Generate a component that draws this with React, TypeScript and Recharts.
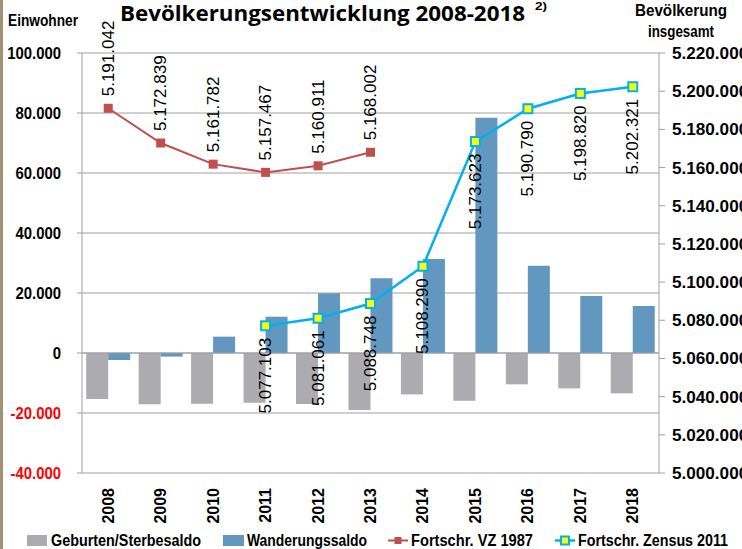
import { ComposedChart, Bar, Line, XAxis, YAxis, CartesianGrid, ReferenceLine, LabelList } from "recharts";

const years = ["2008", "2009", "2010", "2011", "2012", "2013", "2014", "2015", "2016", "2017", "2018"];
const geburtenSaldo = [-15300, -17100, -16900, -16550, -17000, -19000, -13800, -15900, -10450, -11800, -13450];
const wanderungsSaldo = [-2300, -1200, 5450, 12100, 19900, 24900, 31300, 78400, 29100, 19000, 15700];
const vz1987 = [5191042, 5172839, 5161782, 5157467, 5160911, 5168002, null, null, null, null, null];
const zensus2011 = [null, null, null, 5077103, 5081061, 5088748, 5108290, 5173623, 5190790, 5198820, 5202321];
const leftTicks = [-40000, -20000, 0, 20000, 40000, 60000, 80000, 100000];
const rightTicks = [5000000, 5020000, 5040000, 5060000, 5080000, 5100000, 5120000, 5140000, 5160000, 5180000, 5200000, 5220000];

const data = years.map((year, i) => ({
  year,
  geburten: geburtenSaldo[i],
  wanderung: wanderungsSaldo[i],
  vz: vz1987[i],
  zensus: zensus2011[i],
}));

const GRAY = "#ABABB0";
const BLUE = "#6298BF";
const RED = "#C0504D";
const CYAN = "#00B0F0";
const ARIAL = "'Liberation Sans', Arial, sans-serif";

function fmt(n: number) {
  const s = String(Math.abs(n)).replace(/\B(?=(\d{3})+(?!\d))/g, ".");
  return n < 0 ? "-" + s : s;
}

// narrow bold look: squeeze the text to a width based on its characters
function narrowWidth(s: string, digit: number, dot: number) {
  let w = 0;
  for (const c of s) w += c === "." ? dot : c === "-" ? 5 : digit;
  return w;
}

function LeftTick({ x, y, payload }: any) {
  const v = payload.value;
  const s = fmt(v);
  return (
    <text x={x} y={y} dy={6} textAnchor="end" fontFamily={ARIAL} fontWeight="bold" fontSize={16.5}
      textLength={narrowWidth(s, 8.3, 4)} lengthAdjust="spacingAndGlyphs" fill={v < 0 ? "#FF0000" : "#000"}>
      {s}
    </text>
  );
}

function RightTick({ x, y, payload }: any) {
  const s = fmt(payload.value);
  return (
    <text x={x} y={y} dy={6} textAnchor="start" fontFamily={ARIAL} fontWeight="bold" fontSize={17}
      textLength={narrowWidth(s, 9.6, 4.5)} lengthAdjust="spacingAndGlyphs" fill="#000">
      {s}
    </text>
  );
}

function YearTick({ x, payload }: any) {
  return (
    <text x={x} y={488} transform={`rotate(-90, ${x}, 488)`} textAnchor="end" dominantBaseline="central" fontFamily={ARIAL} fontWeight="bold" fontSize={16} fill="#000">
      {payload.value}
    </text>
  );
}

function ValueLabel({ x, y, value, above }: any) {
  if (value == null) return null;
  const ty = above ? y - 12 : y + 12;
  return (
    <text x={x} y={ty} transform={`rotate(-90, ${x}, ${ty})`} textAnchor={above ? "start" : "end"} dominantBaseline="central" fontFamily={ARIAL} fontSize={17} fill="#000">
      {fmt(value)}
    </text>
  );
}

function SquareDot({ cx, cy, fill, stroke, size }: any) {
  if (cx == null || cy == null) return <g />;
  return <rect x={cx - size / 2} y={cy - size / 2} width={size} height={size} fill={fill} stroke={stroke} strokeWidth={2} />;
}

function Squeezed({ x, y, w, size, children, anchor }: any) {
  return (
    <text x={x} y={y} textAnchor={anchor || "start"} fontFamily={ARIAL} fontWeight="bold" fontSize={size}
      textLength={w} lengthAdjust="spacingAndGlyphs" fill="#000">
      {children}
    </text>
  );
}

export default function App() {
  return (
    <div style={{ position: "absolute", left: 0, top: 0, width: 742, height: 549, background: "#fff", overflow: "hidden" }}>
      <div style={{ position: "absolute", left: 0, top: 0, width: 3, height: 549, background: "#A39171" }} />
      <ComposedChart
        width={742}
        height={549}
        data={data}
        margin={{ top: 53, right: 0, bottom: 20, left: 0 }}
        barCategoryGap="8%"
        barGap={0}
      >
        <CartesianGrid yAxisId="left" vertical={false} stroke="#A0A0A0" />
        <XAxis dataKey="year" axisLine={false} tickLine={false} height={56} tick={<YearTick />} interval={0} />
        <YAxis
          yAxisId="left"
          width={82}
          domain={[-40000, 100000]}
          ticks={leftTicks}
          interval={0}
          stroke="#A0A0A0"
          tickSize={5}
          tickMargin={16}
          tick={<LeftTick />}
        />
        <YAxis
          yAxisId="right"
          orientation="right"
          width={83}
          domain={[5000000, 5220000]}
          ticks={rightTicks}
          interval={0}
          stroke="#A0A0A0"
          tickSize={6}
          tickMargin={7}
          tick={<RightTick />}
        />
        <ReferenceLine yAxisId="left" y={0} stroke="#A0A0A0" />
        <Bar yAxisId="left" dataKey="geburten" fill={GRAY} isAnimationActive={false} />
        <Bar yAxisId="left" dataKey="wanderung" fill={BLUE} isAnimationActive={false} />
        <Line
          yAxisId="right"
          dataKey="vz"
          stroke={RED}
          strokeWidth={2}
          dot={(p: any) => <SquareDot key={p.index} cx={p.cx} cy={p.cy} fill={RED} stroke={RED} size={7} />}
          isAnimationActive={false}
        >
          <LabelList dataKey="vz" content={(p: any) => <ValueLabel {...p} above />} />
        </Line>
        <Line
          yAxisId="right"
          dataKey="zensus"
          stroke={CYAN}
          strokeWidth={2.5}
          dot={(p: any) => <SquareDot key={p.index} cx={p.cx} cy={p.cy} fill="#FFFF00" stroke={CYAN} size={9} />}
          isAnimationActive={false}
        >
          <LabelList dataKey="zensus" content={(p: any) => <ValueLabel {...p} />} />
        </Line>
      </ComposedChart>

      <svg width={742} height={549} style={{ position: "absolute", left: 0, top: 0, pointerEvents: "none" }}>
        <text x={120} y={21} fontFamily="'Open Sans', sans-serif" fontWeight="bold" fontSize={22}
          textLength={405} lengthAdjust="spacingAndGlyphs" fill="#000">
          Bevölkerungsentwicklung 2008-2018
        </text>
        <Squeezed x={535} y={10} w={12} size={11}>2)</Squeezed>
        <Squeezed x={8} y={26} w={70} size={16}>Einwohner</Squeezed>
        <Squeezed x={635} y={16} w={92} size={16}>Bevölkerung</Squeezed>
        <Squeezed x={648} y={37} w={66} size={16}>insgesamt</Squeezed>

        <rect x={27} y={535} width={20} height={11} fill={GRAY} />
        <Squeezed x={51} y={546} w={150} size={16}>Geburten/Sterbesaldo</Squeezed>
        <rect x={223} y={535} width={21} height={11} fill={BLUE} />
        <Squeezed x={247} y={546} w={120} size={16}>Wanderungssaldo</Squeezed>
        <line x1={388} y1={540.5} x2={408} y2={540.5} stroke={RED} strokeWidth={2} />
        <rect x={394.5} y={537} width={7} height={7} fill={RED} />
        <Squeezed x={411} y={546} w={122} size={16}>Fortschr. VZ 1987</Squeezed>
        <line x1={555} y1={540.5} x2={575} y2={540.5} stroke={CYAN} strokeWidth={2.5} />
        <rect x={561} y={536.5} width={8} height={8} fill="#FFFF00" stroke={CYAN} strokeWidth={2} />
        <Squeezed x={578} y={546} w={150} size={16}>Fortschr. Zensus 2011</Squeezed>
      </svg>
    </div>
  );
}
